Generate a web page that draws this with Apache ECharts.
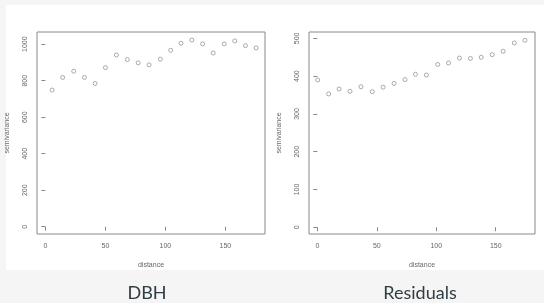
<!DOCTYPE html>
<html>
<head>
<meta charset="utf-8">
<script src="https://cdn.jsdelivr.net/npm/echarts@6/dist/echarts.min.js"></script>
<style>
  html, body { margin: 0; padding: 0; background: #f5f5f5; }
  #chart { width: 544px; height: 303px; }
</style>
</head>
<body>
<div id="chart"></div>
<script>
// DBH semivariogram
const dbhDist = [5.6, 14.4, 23.6, 32.5, 41.4, 50, 59.2, 68.3, 77.3, 86.4, 95.8, 104.4, 113, 122, 131, 139.8, 149, 157.8, 166.7, 175.6]
const dbhGamma = [749, 818, 852, 818, 785, 872, 941, 916, 898, 887, 918, 967, 1005, 1023, 1002, 952, 1002, 1018, 992, 980]

// residuals semivariogram
const resDist = [0.3, 9.5, 18.3, 27.5, 36.7, 46.2, 55.3, 64.5, 73.7, 82.5, 91.7, 101.2, 110.3, 119.5, 128.7, 137.8, 147, 156.2, 165.6, 174.5]
const resGamma = [390, 353, 366, 360, 372, 359, 371, 381, 391, 405, 403, 431, 435, 448, 447, 450, 457, 466, 488, 495]

const xTicks = [0, 50, 100, 150]
const dbhTicks = [0, 200, 400, 600, 800, 1000]
const resTicks = [0, 100, 200, 300, 400, 500]
const panelTitles = ['DBH', 'Residuals']

const textColor = '#666'
const boxColor = '#8a8a8a'
const pointColor = '#7c7c7c'

const chart = echarts.init(document.getElementById('chart'))

const xAxisFor = (gridIndex) => ({
  type: 'value',
  gridIndex: gridIndex,
  min: -7,
  max: 183,
  name: 'distance',
  nameLocation: 'middle',
  nameGap: 28,
  nameTextStyle: { color: textColor, fontSize: 7, fontFamily: 'Liberation Sans' },
  splitLine: { show: false },
  axisLine: { show: false },
  axisTick: { show: true, inside: false, length: 4, customValues: xTicks, lineStyle: { color: boxColor } },
  axisLabel: { customValues: xTicks, margin: 9, color: textColor, fontSize: 7, fontFamily: 'Liberation Sans',
    formatter: (v) => String(v) }
})

const yAxisFor = (gridIndex, min, max, ticks) => ({
  type: 'value',
  gridIndex: gridIndex,
  min: min,
  max: max,
  name: 'semivariance',
  nameLocation: 'middle',
  nameGap: 26,
  nameTextStyle: { color: textColor, fontSize: 7, fontFamily: 'Liberation Sans' },
  splitLine: { show: false },
  axisLine: { show: false },
  axisTick: { show: true, inside: false, length: 4, customValues: ticks, lineStyle: { color: boxColor } },
  axisLabel: { customValues: ticks, rotate: 90, margin: 8, color: textColor, fontSize: 7, fontFamily: 'Liberation Sans',
    formatter: (v) => String(v) }
})

const options = {
  backgroundColor: '#f5f5f5',
  animation: false,
  graphic: [
    { type: 'rect', left: 6, top: 5, shape: { width: 538, height: 265 }, style: { fill: '#fff' }, z: -10 }
  ],
  title: [
    { text: panelTitles[0], left: 142, top: 279, textAlign: 'center',
      textStyle: { color: '#2f3d44', fontSize: 18, fontWeight: 'normal', fontFamily: 'Lato' } },
    { text: panelTitles[1], left: 415, top: 279, textAlign: 'center',
      textStyle: { color: '#2f3d44', fontSize: 18, fontWeight: 'normal', fontFamily: 'Lato' } }
  ],
  grid: [
    { left: 37, top: 32, width: 228, height: 202, show: true, borderColor: boxColor, borderWidth: 1, backgroundColor: 'transparent' },
    { left: 309, top: 32, width: 226, height: 202, show: true, borderColor: boxColor, borderWidth: 1, backgroundColor: 'transparent' }
  ],
  xAxis: [xAxisFor(0), xAxisFor(1)],
  yAxis: [yAxisFor(0, -40, 1067, dbhTicks), yAxisFor(1, -18, 517, resTicks)],
  series: [
    {
      type: 'scatter',
      xAxisIndex: 0,
      yAxisIndex: 0,
      symbol: 'circle',
      symbolSize: 4,
      itemStyle: { color: '#fff', borderColor: pointColor, borderWidth: 0.8 },
      data: dbhDist.map((d, i) => [d, dbhGamma[i]])
    },
    {
      type: 'scatter',
      xAxisIndex: 1,
      yAxisIndex: 1,
      symbol: 'circle',
      symbolSize: 4,
      itemStyle: { color: '#fff', borderColor: pointColor, borderWidth: 0.8 },
      data: resDist.map((d, i) => [d, resGamma[i]])
    }
  ]
}
chart.setOption(options)
</script>
</body>
</html>
